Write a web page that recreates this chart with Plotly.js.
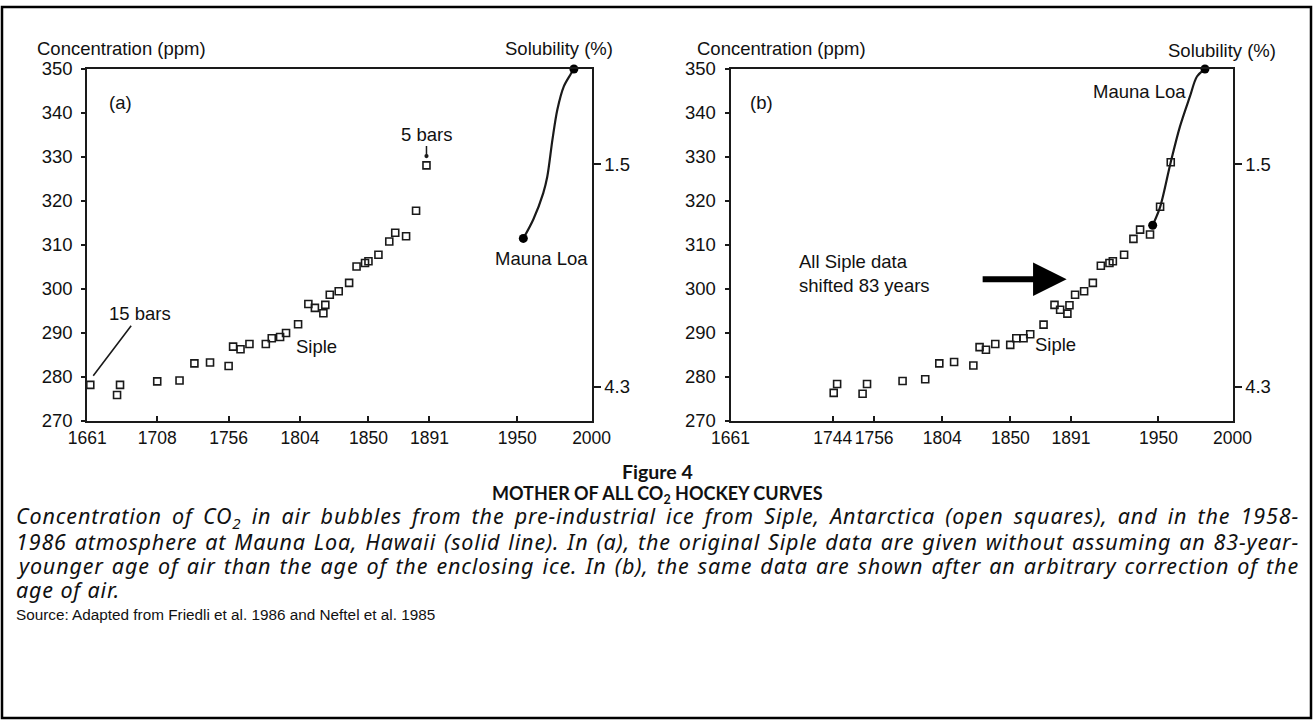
<!DOCTYPE html>
<html><head><meta charset="utf-8">
<script src="https://cdn.plot.ly/plotly-3.0.1.min.js"></script>
<style>html,body{margin:0;padding:0;background:#fff}#chart{width:1314px;height:725px}</style>
</head><body><div id="chart"></div>
<script>
// ---- data ----
const sipleYearA = [1660,1663,1681,1683,1708,1723,1733,1743.5,1756,1759,1764,1770,1781,1785,1790.6,1794.6,1802.7,1809.6,1814,1819.7,1821,1824,1830,1837,1842,1847.7,1850,1856.7,1864,1868,1875.3,1882,1889];
const sipleCo2A  = [276.2,278.2,275.9,278.2,279.0,279.2,283.1,283.3,282.5,286.9,286.3,287.5,287.5,288.8,289.1,290.0,292.0,296.6,295.7,294.5,296.4,298.7,299.5,301.4,305.1,305.9,306.3,307.8,310.8,312.8,312.0,317.8,328.1];
const sipleYearB = [1730.7,1733,1750.2,1753.2,1777.2,1792.5,1802,1812,1825,1829.2,1833.5,1839.8,1849.9,1854,1858.9,1863.4,1872.4,1879.8,1883.6,1888.5,1889.9,1893.7,1899.8,1905.7,1911.1,1916.9,1919.2,1926.8,1933.1,1937.6,1944.3,1951.1,1958.3];
const sipleCo2B  = [276.4,278.4,276.2,278.4,279.1,279.5,283.1,283.4,282.6,286.8,286.2,287.5,287.3,288.8,288.8,289.7,291.9,296.4,295.3,294.4,296.3,298.7,299.5,301.4,305.3,305.9,306.3,307.8,311.4,313.5,312.4,318.7,328.8];
const maunaYearA = [1954.1,1960.8,1967.5,1970.2,1973.7,1977.0,1981.4,1985.9,1988.1];
const maunaCo2A  = [311.5,315.8,321.8,325.5,334.0,340.8,346.1,348.8,350.0];
const maunaYearB = [1946.1,1951.1,1958.2,1964.5,1971.2,1976.0,1981.4];
const maunaCo2B  = [314.5,318.6,328.7,336.9,343.7,348.3,350.0];
const concTicks = [270,280,290,300,310,320,330,340,350];
const yearTicksA = [1661,1708,1756,1804,1850,1891,1950,2000];
const yearLabelsA = ['1661','1708','1756','1804','1850','1891','1950','2000'];
const yearTicksB = [1661,1730,1758,1804,1850,1891,1950,2000];
const yearLabelsB = ['1661','1744','1756','1804','1850','1891','1950','2000'];
const solubilityTicks = [328.3,277.8];
const solubilityLabels = ['1.5','4.3'];
const captionLines = [
  'Concentration of CO<sub>2</sub> in air bubbles from the pre-industrial ice from Siple, Antarctica (open squares), and in the 1958-',
  '1986 atmosphere at Mauna Loa, Hawaii (solid line). In (a), the original Siple data are given without assuming an 83-year-',
  'younger age of air than the age of the enclosing ice. In (b), the same data are shown after an arbitrary correction of the',
  'age of air.'
];

// ---- layout helpers ----
const W = 1314, H = 725;
const fx = p => p / W, fy = p => 1 - p / H;
const INK = '#1a1a1a';
const tickFont = {family:'Liberation Sans, Arial, sans-serif', size:18.5, color:'#111'};
const xTickFont = {family:'Liberation Sans, Arial, sans-serif', size:17.5, color:'#111'};
const capFont = {family:'Noto Sans, sans-serif', size:21.5, color:'#111'};

function xAx(domain, tv, tt, anchor){
  return {domain, range:[1661,2000], anchor, tickmode:'array', tickvals:tv, ticktext:tt, tickangle:0,
    ticks:'inside', ticklen:5, tickwidth:1.5, tickcolor:INK, showline:true, linewidth:2, linecolor:INK,
    mirror:true, showgrid:false, zeroline:false, tickfont:xTickFont, fixedrange:true};
}
function yAx(anchor){
  return {domain:[fy(421), fy(69)], range:[270,350], anchor, tickmode:'array', tickvals:concTicks,
    ticks:'outside', ticklen:4, tickwidth:1.5, tickcolor:INK, showline:true, linewidth:2, linecolor:INK,
    mirror:true, showgrid:false, zeroline:false, tickfont:tickFont, ticklabelstandoff:5, fixedrange:true};
}
function yRight(over, anchor){
  return {overlaying:over, side:'right', anchor, range:[270,350], tickmode:'array',
    tickvals:solubilityTicks, ticktext:solubilityLabels, ticks:'outside', ticklen:8, tickwidth:1.5,
    tickcolor:INK, showline:false, showgrid:false, zeroline:false, tickfont:tickFont, fixedrange:true};
}

const sq = {symbol:'square-open', size:7, color:INK, line:{width:1.6, color:INK}};
const lineStyle = {color:INK, width:2.2, shape:'spline', smoothing:0.9};
const dot = {symbol:'circle', size:9, color:'#000'};
const ends = arr => [arr[0], arr[arr.length-1]];
const traces = [
  {x:sipleYearA, y:sipleCo2A, xaxis:'x', yaxis:'y', mode:'markers', marker:sq, cliponaxis:false},
  {x:maunaYearA, y:maunaCo2A, xaxis:'x', yaxis:'y', mode:'lines', line:lineStyle, cliponaxis:false},
  {x:ends(maunaYearA), y:ends(maunaCo2A), xaxis:'x', yaxis:'y', mode:'markers', marker:dot, cliponaxis:false},
  {x:sipleYearB, y:sipleCo2B, xaxis:'x2', yaxis:'y3', mode:'markers', marker:sq, cliponaxis:false},
  {x:maunaYearB, y:maunaCo2B, xaxis:'x2', yaxis:'y3', mode:'lines', line:lineStyle, cliponaxis:false},
  {x:ends(maunaYearB), y:ends(maunaCo2B), xaxis:'x2', yaxis:'y3', mode:'markers', marker:dot, cliponaxis:false},
  {x:[null], y:[null], xaxis:'x', yaxis:'y2', mode:'markers'},
  {x:[null], y:[null], xaxis:'x2', yaxis:'y4', mode:'markers'}
];

const lab = (text, x, y, xr, yr, extra) => Object.assign({text, x, y, xref:xr, yref:yr, showarrow:false, font:tickFont}, extra||{});
const pap = (text, px, py, xanchor, font) => ({text, x:fx(px), y:fy(py), xref:'paper', yref:'paper', xanchor, yanchor:'middle', showarrow:false, font, align:xanchor==='center'?'center':'left'});

const annotations = [
  // axis titles
  pap('Concentration (ppm)', 35, 49, 'left', tickFont),
  pap('Solubility (%)', 615, 49, 'right', tickFont),
  pap('Concentration (ppm)', 695, 49, 'left', tickFont),
  pap('Solubility (%)', 1278, 50, 'right', tickFont),
  // panel a
  lab('(a)', 1683, 342.3, 'x', 'y'),
  lab('Siple', 1815.3, 287, 'x', 'y'),
  lab('Mauna Loa', 1966, 307, 'x', 'y'),
  lab('15 bars', 1665, 280.3, 'x', 'y', {showarrow:true, ax:47, ay:-62, arrowhead:0, arrowwidth:1.6, arrowcolor:INK}),
  lab('5 bars', 1889, 330.2, 'x', 'y', {showarrow:true, ax:0, ay:-22, arrowhead:6, arrowsize:0.7, arrowwidth:1.5, arrowcolor:INK}),
  // panel b
  lab('(b)', 1682, 342.3, 'x2', 'y3'),
  lab('Siple', 1880.2, 287.3, 'x2', 'y3'),
  lab('Mauna Loa', 1937.5, 345, 'x2', 'y3'),
  lab('All Siple data<br>shifted 83 years', 1705.9, 303.6, 'x2', 'y3', {xanchor:'left', align:'left'}),
  lab(' ', 1888, 302.2, 'x2', 'y3', {showarrow:true, ax:-88, ay:0, arrowhead:2, arrowsize:1.12, arrowwidth:6, arrowcolor:'#000'}),
  // caption
  pap('<b>Figure 4</b>', 657, 472, 'center', {family:'Lato, sans-serif', size:19.5, color:'#111'}),
  pap('<b>MOTHER OF ALL CO<sub>2</sub> HOCKEY CURVES</b>', 657, 494, 'center', {family:'Lato, sans-serif', size:18, color:'#111'})
];
const CAP_FIRST = annotations.length;
captionLines.forEach((t, i) => annotations.push(pap('<i>' + t + '</i>', 14, 517 + 24 * i, 'left', capFont)));
annotations.push(pap('Source: Adapted from Friedli et al. 1986 and Neftel et al. 1985', 14, 614, 'left', {family:'Liberation Sans, Arial, sans-serif', size:15.3, color:'#111'}));

const layout = {
  width:W, height:H, margin:{l:0, r:0, t:0, b:0}, paper_bgcolor:'#fff', plot_bgcolor:'rgba(0,0,0,0)',
  showlegend:false, hovermode:'closest',
  xaxis: xAx([fx(87.3), fx(591.6)], yearTicksA, yearLabelsA, 'y'),
  yaxis: yAx('x'),
  yaxis2: yRight('y', 'x'),
  xaxis2: xAx([fx(730.5), fx(1232.5)], yearTicksB, yearLabelsB, 'y3'),
  yaxis3: yAx('x2'),
  yaxis4: yRight('y3', 'x2'),
  annotations,
  shapes:[{type:'rect', xref:'paper', yref:'paper', x0:fx(2), x1:fx(1311), y0:fy(718), y1:fy(7), line:{color:'#000', width:2.5}}]
};

Plotly.newPlot('chart', traces, layout, {displayModeBar:false}).then(gd => {
  // justify the caption lines like the printed (justified) paragraph
  const target = 1283;
  for (let i = 0; i < captionLines.length; i++) {
    const el = gd.querySelector('.annotation[data-index="' + (CAP_FIRST + i) + '"] text.annotation-text');
    if (!el) continue;
    el.style.letterSpacing = '0.85px';
    if (i === captionLines.length - 1) continue;
    const w = el.getBBox().width;
    const n = (el.textContent.match(/ /g) || []).length;
    if (n > 0) el.style.wordSpacing = ((target - w) / n).toFixed(2) + 'px';
  }
});
</script></body></html>
